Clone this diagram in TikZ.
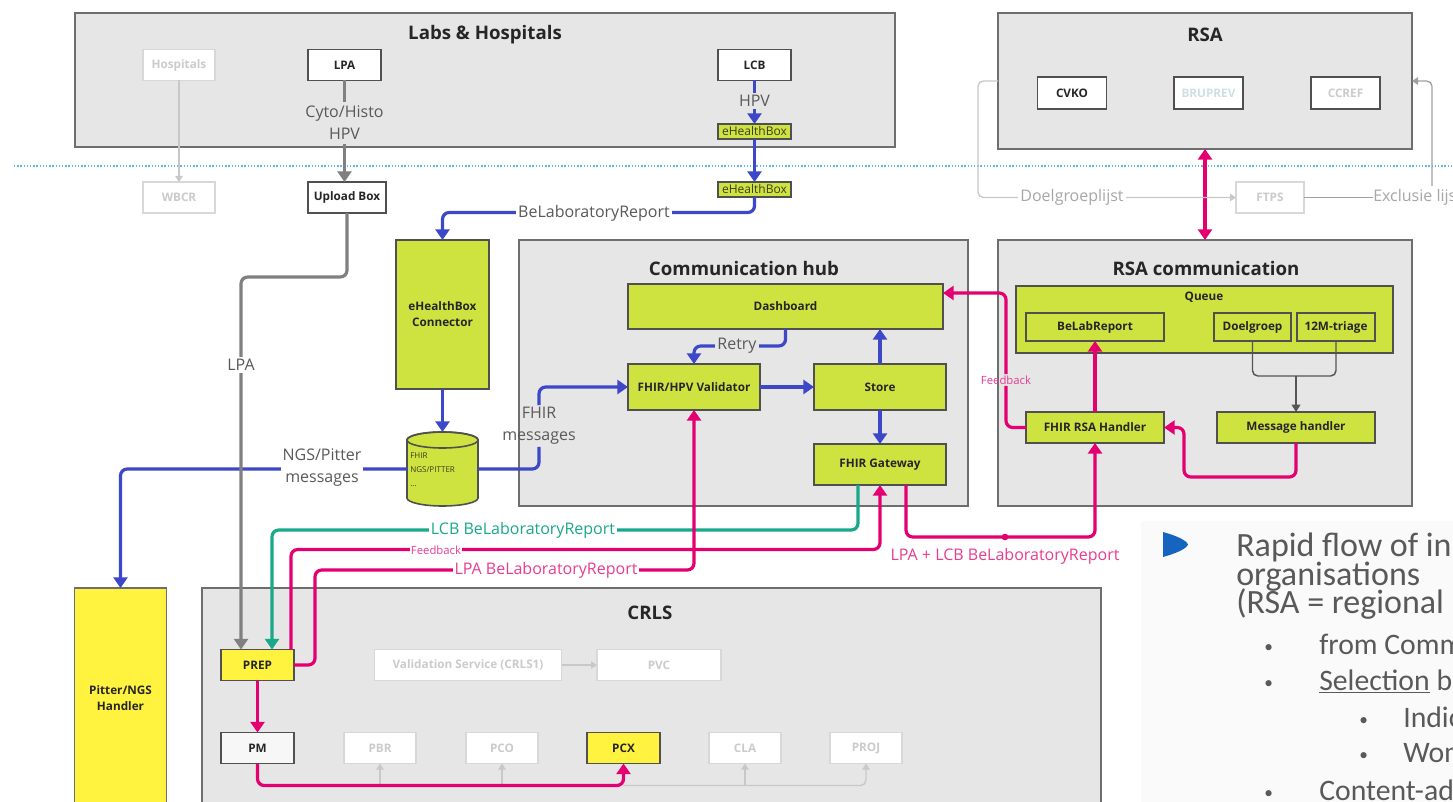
\documentclass[tikz,border=0pt]{standalone}
\usepackage{fontspec}
\setmainfont{Open Sans}
\newfontfamily\carl{Carlito}
\newcommand\tightlines{\lineskiplimit=-30pt\relax\lineskip=0pt\relax}
\usetikzlibrary{arrows.meta,calc,shapes.geometric}
\definecolor{boxgray}{HTML}{E6E6E6}
\definecolor{grpborder}{HTML}{6E6E6E}
\definecolor{bxborder}{HTML}{505050}
\definecolor{lime}{RGB}{207,227,64}
\definecolor{yel}{RGB}{255,243,64}
\definecolor{fblue}{RGB}{60,72,200}
\definecolor{fpink}{RGB}{228,0,112}
\definecolor{lpink}{RGB}{232,60,145}
\definecolor{fteal}{RGB}{26,168,138}
\definecolor{fgray}{HTML}{808080}
\definecolor{faintborder}{HTML}{D8D8D8}
\definecolor{faintline}{HTML}{C8C8C8}
\definecolor{fainttext}{HTML}{CBCBCB}
\definecolor{brutext}{HTML}{CFE0E0}
\definecolor{faintlbl}{HTML}{A6A6A6}
\definecolor{exline}{HTML}{A0A0A0}
\definecolor{darkline}{HTML}{555555}
\definecolor{labeltext}{HTML}{595959}
\definecolor{titletext}{HTML}{262626}
\definecolor{olivetext}{HTML}{3C3C1E}
\definecolor{dotblue}{HTML}{5BB8F0}
\definecolor{bullblue}{HTML}{1565C0}
\definecolor{slidetext}{HTML}{595959}
\definecolor{panel}{HTML}{FAFAFA}
\definecolor{pmfill}{HTML}{F7F7F7}
\tikzset{
  bw/.style={minimum width=#1*0.75pt},
  bh/.style={minimum height=#1*0.75pt},
  grp/.style={draw=grpborder, line width=1.4pt, fill=boxgray, inner sep=0pt, outer sep=0pt},
  ttl/.style={font=\bfseries\fontsize{14}{16}\selectfont, text=titletext, inner sep=0pt},
  bx/.style={draw=bxborder, line width=1.2pt, fill=white, inner sep=0pt, outer sep=0pt,
             font=\bfseries\fontsize{8.8}{12}\selectfont, text=titletext, align=center},
  gbx/.style={bx, fill=lime},
  ybx/.style={bx, fill=yel},
  fbx/.style={bx, draw=faintborder, line width=0.9pt, text=fainttext},
  lbl/.style={font=\fontsize{12}{16.5}\selectfont, text=labeltext, inner sep=1.5pt, align=center},
  slbl/.style={font=\fontsize{8.5}{10}\selectfont, inner sep=1pt},
  conn/.style={line width=2.4pt, rounded corners=5pt},
  arr/.style={-{Triangle[width=10.5pt,length=8pt]}},
  arrb/.style={{Triangle[width=10.5pt,length=8pt]}-{Triangle[width=10.5pt,length=8pt]}},
  fconn/.style={draw=faintline, line width=1pt, rounded corners=4pt},
  exconn/.style={draw=exline, line width=1pt, rounded corners=4pt},
  farr/.style={-{Triangle[width=5.5pt,length=4.5pt]}},
  dconn/.style={draw=darkline, line width=1.1pt, rounded corners=4pt},
  darr/.style={-{Triangle[width=6.5pt,length=5.5pt]}},
  stext/.style={font=\carl\fontsize{22.3}{27}\selectfont, text=slidetext, inner sep=0pt, anchor=base west},
  sbul/.style={font=\carl\fontsize{13}{15}\selectfont, text=slidetext, inner sep=0pt, anchor=base west},
}
\begin{document}
\begin{tikzpicture}[x=0.75pt,y=-0.75pt]
\useasboundingbox (0,0) rectangle (1453,802);
\clip (0,0) rectangle (1453,802);
\fill[white] (0,0) rectangle (1453,802);
\fill[panel] (1141,521) rectangle (1453,802);

% separator
\draw[dotblue, line width=1.3pt, dash pattern=on 1.1pt off 1.3pt] (14,166) -- (1453,166);

% groups
\node[grp, bw=820, bh=134] (labs) at (485,80) {};
\node[grp, bw=414, bh=136] (rsa) at (1205,81) {};
\node[grp, bw=449, bh=266] (hub) at (743.5,373) {};
\node[grp, bw=414, bh=266] (rsac) at (1205,373) {};
\node[grp, bw=899, bh=220] (crls) at (651.5,698) {};
\node[ybx, draw=grpborder, bw=92, bh=220] (pitter) at (120.5,698) {Pitter/NGS\\Handler};

% titles
\node[ttl] (labsT) at (485,35) {Labs \& Hospitals};
\node[ttl] (rsaT) at (1205,35) {RSA};
\node[ttl] (hubT) at (744,269) {Communication hub};
\node[ttl] (rsacT) at (1206,269) {RSA communication};
\node[ttl] (crlsT) at (650,613) {CRLS};

% labs & hospitals
\node[fbx, bw=72, bh=31] (hosp) at (179,65) {Hospitals};
\node[bx, bw=73, bh=31] (lpa) at (344.5,65) {LPA};
\node[bx, bw=73, bh=31] (lcb) at (754.5,65) {LCB};
\node[gbx, bw=73, bh=15, font=\fontsize{9}{10}\selectfont, text=olivetext] (ehb1) at (754.5,131.5) {eHealthBox};
\node[gbx, bw=73, bh=15, font=\fontsize{9}{10}\selectfont, text=olivetext] (ehb2) at (754.5,189.5) {eHealthBox};
\node[fbx, bw=72, bh=31] (wbcr) at (179,197.5) {WBCR};
\node[bx, bw=78, bh=31] (upl) at (347,197.5) {Upload Box};

% RSA
\node[bx, bw=69, bh=32] (cvko) at (1072,93) {CVKO};
\node[bx, bw=69, bh=32, text=brutext] (bru) at (1208.5,93) {BRUPREV};
\node[bx, bw=69, bh=32, text=fainttext] (ccref) at (1345.5,93) {CCREF};
\node[fbx, bw=68, bh=31] (ftps) at (1270,197.5) {FTPS};

% eHealthBox connector + message store (cylinder)
\node[gbx, bw=93, bh=149] (ehc) at (442.5,314.5) {eHealthBox\\Connector};
\node[bw=71, bh=74, inner sep=0pt, outer sep=0pt] (cyl) at (442.5,469) {};
\filldraw[fill=lime, draw=bxborder, line width=1.2pt]
  (407,440) -- (407,498) arc[start angle=180, end angle=0, x radius=35.5, y radius=8]
  -- (478,440) arc[start angle=0, end angle=-180, x radius=35.5, y radius=8] -- cycle;
\draw[draw=bxborder, line width=1.2pt] (442.5,440) ellipse [x radius=35.5, y radius=8];
\node[anchor=west, align=left, font=\fontsize{6}{10.5}\selectfont, text=olivetext, inner sep=0pt] (cyltxt) at (410,470) {FHIR\\NGS/PITTER\\...};

% communication hub
\node[gbx, bw=315, bh=45] (dash) at (785.5,306.5) {Dashboard};
\node[gbx, bw=132, bh=46] (val) at (694,387) {FHIR/HPV Validator};
\node[gbx, bw=132, bh=46] (store) at (880,387) {Store};
\node[gbx, bw=132, bh=41] (gw) at (880,464.5) {FHIR Gateway};

% RSA communication
\node[gbx, bw=377, bh=67] (queue) at (1204.5,319.5) {};
\node[font=\bfseries\fontsize{8.8}{10}\selectfont, text=titletext, inner sep=0pt] (queueT) at (1204,297) {Queue};
\node[gbx, bw=138, bh=28] (belab) at (1095,327) {BeLabReport};
\node[gbx, bw=77, bh=28] (doel) at (1252.5,327) {Doelgroep};
\node[gbx, bw=78, bh=28] (m12) at (1336,327) {12M-triage};
\node[gbx, bw=158, bh=31] (msgh) at (1296,427.5) {Message handler};
\node[gbx, bw=138, bh=31] (frh) at (1095,427.5) {FHIR RSA Handler};

% CRLS
\node[ybx, bw=73, bh=31] (prep) at (257.5,665) {PREP};
\node[fbx, bw=187, bh=31] (vs) at (468,665) {Validation Service (CRLS1)};
\node[fbx, bw=124, bh=31] (pvc) at (659,665) {PVC};
\node[bx, fill=pmfill, bw=73, bh=31] (pm) at (257.5,748) {PM};
\node[fbx, bw=72, bh=31] (pbr) at (380,748) {PBR};
\node[fbx, bw=72, bh=31] (pco) at (502,748) {PCO};
\node[ybx, bw=73, bh=31] (pcx) at (623.5,748) {PCX};
\node[fbx, bw=72, bh=31] (cla) at (745,748) {CLA};
\node[fbx, bw=72, bh=31] (proj) at (866,748) {PROJ};

% labels that split their connector
\node[lbl] (fhirlbl) at (539,426) {FHIR\\messages};
\node[slbl, text=lpink] (fb1) at (1006,380) {Feedback};

% ---- connectors ----
\draw[fconn, farr] (hosp.south) -- (wbcr.north);
\draw[conn, fgray, arr] (lpa.south) -- (lpa.south |- upl.north);
\draw[conn, fblue, arr] (lcb.south) -- (ehb1.north);
\draw[conn, fblue, arr] (ehb1.south) -- (ehb2.north);
\draw[conn, fblue, arr] (ehb2.south) -- ++(0,15.5) -| (ehc.north);
\draw[conn, fblue, arr] (ehc.south) -- (ehc.south |- cyl.north);
\draw[conn, fblue] (cyl.east) -| (fhirlbl.south);
\draw[conn, fblue, arr] (fhirlbl.north) |- (val.west);
\draw[conn, fblue, arr] (cyl.west) -| (pitter.north);
\draw[conn, fgray, arr] (upl.south) -- ++(0,64) -| ($(prep.north west)+(20,0)$);

\draw[conn, fblue, arr] (dash.south) -- ++(0,17) -| (val.north);
\draw[conn, fblue, arr] (val.east) -- (store.west);
\draw[conn, fblue, arr] (store.north) -- (store.north |- dash.south);
\draw[conn, fblue, arr] (store.south) -- (gw.north);

\draw[conn, fpink, arrb] (rsa.south) -- (rsac.north);
\draw[fconn, farr] (rsa.west) -- ++(-20,0) |- (ftps.west);
\node[lbl, anchor=west, text=faintlbl, inner sep=0pt] (exlbl) at (1373,197.5) {Exclusie lijst};
\draw[exconn] (ftps.east) -- (exlbl.west);
\coordinate (exup) at (1432,186);
\draw[exconn, farr] (exup) |- (rsa.east);

\coordinate (mj) at ($(msgh.north)+(0,-36)$);
\draw[dconn] (doel.south) |- (mj);
\draw[dconn] (m12.south) |- (mj);
\draw[dconn, darr] (mj) -- (msgh.north);
\draw[conn, fpink, arr] (msgh.south) -- ++(0,34) -| ($(frh.east)+(20,0)$) -- (frh.east);
\draw[conn, fpink, arr] (frh.north) -- (belab.south);
\draw[conn, fpink] (frh.west) -| (fb1.south);
\draw[conn, fpink, arr] (fb1.north) |- ($(dash.north east)+(0,9)$);

\draw[conn, fteal, arr] ($(gw.south west)+(44,0)$) -- ++(0,45) -| ($(prep.north west)+(51,0)$);
\draw[conn, fpink, arr] ($(prep.north west)+(70,0)$) -- ++(0,-100) -| (gw.south);
\draw[conn, fpink, arr] (prep.east) -- ++(21,0) |- ($(val.south)+(0,160)$) -- (val.south);
\draw[conn, fpink, arr] ($(gw.south)+(26,0)$) |- ($(frh.south)+(0,94)$) -- (frh.south);
\node[circle, fill=fpink, inner sep=0pt, minimum size=5pt] (dot) at (1005,537) {};

\draw[conn, fpink, arr] (prep.south) -- (pm.north);
\draw[fconn, farr] (vs.east) -- (pvc.west);
\draw[fconn, farr] ($(pbr.south)+(0,22)$) -- (pbr.south);
\draw[fconn, farr] ($(pco.south)+(0,22)$) -- (pco.south);
\draw[fconn, farr] ($(cla.south)+(0,22)$) -- (cla.south);
\draw[fconn, farr] ($(pcx.south)+(0,22)$) -| (proj.south);
\draw[conn, fpink, arr] (pm.south) -- ++(0,22) -| (pcx.south);

% ---- labels on connectors ----
\node[lbl, fill=boxgray, inner ysep=3pt] (cyto) at (344.5,123) {Cyto/Histo\\HPV};
\node[lbl, fill=boxgray] (hpv) at (754.5,101) {HPV};
\node[lbl, fill=white] (belbl) at (594,213) {BeLaboratoryReport};
\node[lbl, fill=white] (ngslbl) at (322,468) {NGS/Pitter\\messages};
\node[lbl, fill=white] (lpalbl) at (241,365) {LPA};
\node[lbl, fill=boxgray] (retry) at (737,346) {Retry};
\node[lbl, fill=white, text=faintlbl] (doellbl) at (1072,197.5) {Doelgroeplijst};
\node[lbl, fill=white, text=fteal] (lcblbl) at (523,530) {LCB BeLaboratoryReport};
\node[slbl, fill=white, text=lpink] (fb2) at (436,550) {Feedback};
\node[lbl, fill=white, text=lpink] (lpablbl) at (546,570) {LPA BeLaboratoryReport};
\node[lbl, text=lpink] (lpalcb) at (1005,556) {LPA + LCB BeLaboratoryReport};

% ---- slide text ----
\fill[bullblue] (1163,532) .. controls (1177,536) and (1186,540) .. (1188,544.5)
   .. controls (1186,549) and (1177,553) .. (1163,557) -- cycle;
\node[anchor=north west, align=left, inner sep=0pt, text=slidetext,
      font={\carl\fontsize{25.5}{21.4}\selectfont\tightlines}] (head) at (1236,533) {Rapid flow of in\\organisations\\(RSA = regional};
\node[sbul] (b1) at (1264,652) {•};
\node[stext] (t4) at (1319,654) {from Comm};
\node[sbul] (b2) at (1264,688) {•};
\node[stext] (t5) at (1319,690) {\underline{Selection} ba};
\node[sbul] (b3) at (1359,725) {•};
\node[stext] (t6) at (1403,727) {Indic};
\node[sbul] (b4) at (1359,760) {•};
\node[stext] (t7) at (1403,762) {Wom};
\node[sbul] (b5) at (1264,798) {•};
\node[stext] (t8) at (1319,800) {Content-ad};
\end{tikzpicture}
\end{document}
